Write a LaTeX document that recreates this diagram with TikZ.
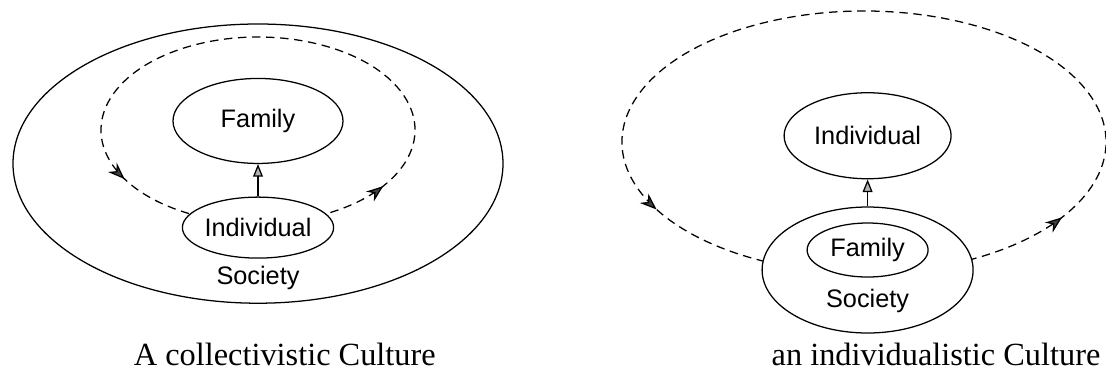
\documentclass[tikz,border=0pt]{standalone}
\usepackage{fontspec}
\setmainfont{Liberation Serif}
\setsansfont{Liberation Sans}
\usetikzlibrary{arrows.meta,positioning,shapes.geometric,decorations.markings}

\begin{document}
\begin{tikzpicture}[
    ov/.style={draw, ellipse, fill=white, line width=0.9pt, inner sep=0pt,
      font=\sffamily\fontsize{18}{20}\selectfont},
    txt/.style={font=\sffamily\fontsize{18}{20}\selectfont, inner sep=0pt},
    capt/.style={font=\fontsize{23}{26}\selectfont, anchor=base, inner sep=0pt},
    cyc/.style 2 args={line width=0.9pt, dash pattern=on 6pt off 4pt,
      decoration={markings,
        mark=at position #1 with {\arrow{Stealth[length=12pt,width=9pt,fill=black!75]}},
        mark=at position #2 with {\arrow{Stealth[length=12pt,width=9pt,fill=black!75]}}},
      postaction={decorate}},
    up/.style={-{Triangle[fill=gray!60,length=9pt,width=7pt]}, line width=0.9pt}
  ]
    \useasboundingbox (0,0) rectangle (27.65,-9.425);

    % collectivistic culture
    \node[ov, minimum width=12.25cm, minimum height=6.98cm] (soc1) at (6.45,-4.09) {};
    \coordinate (c1) at (6.45,-3.25);
    \draw[cyc={0.108}{0.876}] ([shift={(-68:3.925 and 2.325)}]c1)
      arc[start angle=-68, end angle=248, x radius=3.925, y radius=2.325];
    \node[ov, minimum width=3.325cm, minimum height=1.525cm] (ind1) at (6.45,-5.69) {Individual};
    \node[ov, minimum width=4.25cm, minimum height=2.125cm, above=0.81cm of ind1] (fam1) {Family};
    \node[txt, below=0.17cm of ind1] (lbl1) {Society};
    \draw[up] (ind1) -- (fam1);
    \node[capt] (cap1) at (7.12,-9.125) {A collectivistic Culture};

    % individualistic culture
    \coordinate (c2) at (21.6,-3.55);
    \draw[cyc={0.116}{0.872}] ([shift={(-68:6.05 and 3.275)}]c2)
      arc[start angle=-68, end angle=248, x radius=6.05, y radius=3.275];
    \node[ov, minimum width=5.275cm, minimum height=3.15cm] (soc2) at (21.69,-6.75) {};
    \node[ov, minimum width=3.025cm, minimum height=1.35cm] (fam2) at ([yshift=0.5cm]soc2.center) {Family};
    \node[txt] (lbl2) at ([yshift=-0.78cm]soc2.center) {Society};
    \node[ov, minimum width=4.175cm, minimum height=2.15cm, above=0.675cm of soc2] (ind2) {Individual};
    \draw[up] (soc2) -- (ind2);
    \node[capt] (cap2) at (23.4,-9.125) {an individualistic Culture};
  \end{tikzpicture}
\end{document}
